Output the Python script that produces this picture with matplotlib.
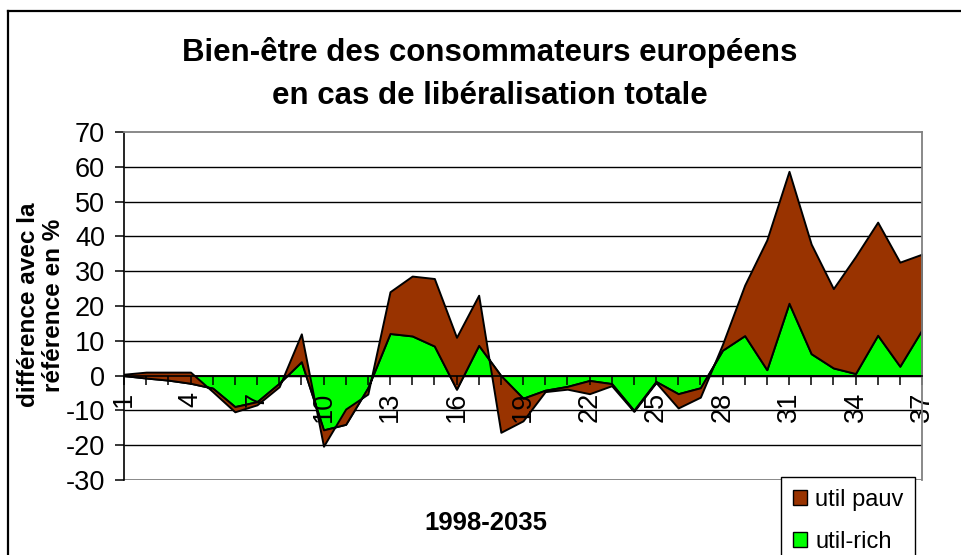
import matplotlib
matplotlib.use("Agg")
import matplotlib.pyplot as plt
from matplotlib.patches import Patch
from matplotlib.lines import Line2D

plt.rcParams.update({
    "font.family": ["Liberation Sans", "DejaVu Sans"],
    "font.size": 17,
    "axes.unicode_minus": False,
})

# categories 1..37 (years 1998-2035)
periods = list(range(1, 38))
tick_labels = [str(p) if (p - 1) % 3 == 0 else "" for p in periods]

# util-rich (bottom of stack)
util_rich = [0.0, -0.7, -1.3, -2.2, -3.6, -8.9, -7.5, -2.2, 4.0, -15.6,
             -14.0, -3.5, 12.1, 11.4, 8.5, -3.9, 8.7, 0.0, -6.5, -4.2,
             -3.1, -1.4, -2.3, -10.0, -1.7, -5.2, -3.5, 7.3, 11.5, 1.7,
             20.8, 6.3, 2.2, 0.6, 11.6, 2.7, 13.2]
# util pauv (stacked on top)
util_pauv = [0.4, 1.7, 2.3, 3.2, -1.0, -1.5, -0.9, -1.0, 8.0, -4.7,
             4.4, -1.8, 12.0, 17.2, 19.4, 14.9, 14.4, -16.3, -6.5, -0.4,
             -0.8, -3.8, -0.6, -0.3, -0.3, -4.1, -2.7, 1.7, 14.5, 37.3,
             37.9, 31.5, 22.8, 33.6, 32.5, 29.9, 21.7]

y_ticks = [-30, -20, -10, 0, 10, 20, 30, 40, 50, 60, 70]

COL_RICH = "#00FF00"
COL_PAUV = "#993300"
GRAY = "#808080"

W, H = 961, 555
fig = plt.figure(figsize=(W / 100, H / 100), dpi=100)
fig.patch.set_facecolor("white")

# outer chart frame (runs off the right/bottom edge)
fig.add_artist(Line2D([8 / W, 8 / W], [-0.1, 1 - 11 / H], color="black", lw=1.6))
fig.add_artist(Line2D([8 / W, 1.1], [1 - 11 / H, 1 - 11 / H], color="black", lw=1.6))

ax = fig.add_axes([124 / W, 1 - 480 / H, (922 - 124) / W, (480 - 132) / H])
ax.set_xlim(periods[0], periods[-1])
ax.set_ylim(y_ticks[0], y_ticks[-1])

# gridlines (behind the areas)
ax.hlines(y_ticks[1:-1], periods[0], periods[-1], color="black", lw=1.0, zorder=0)
ax.hlines([y_ticks[0]], periods[0], periods[-1], color=GRAY, lw=1.3, zorder=0)

ax.stackplot(periods, util_rich, util_pauv, colors=[COL_RICH, COL_PAUV],
             edgecolor="black", linewidth=1.4, zorder=1)

for s in ["top", "right"]:
    ax.spines[s].set_color(GRAY)
    ax.spines[s].set_linewidth(1.3)
ax.spines["left"].set_color("black")
ax.spines["left"].set_linewidth(1.2)
ax.spines["bottom"].set_position(("data", 0))
ax.spines["bottom"].set_color("black")
ax.spines["bottom"].set_linewidth(1.2)

ax.set_yticks(y_ticks)
ax.set_xticks(periods)
ax.set_xticklabels(tick_labels)
ax.tick_params(axis="y", direction="out", length=6.5, width=1.1, pad=7, labelsize=19.5)
ax.tick_params(axis="x", direction="out", length=6.5, width=1.1, pad=5, labelsize=19.5,
               labelrotation=90)

# titles
fig.text(490 / W, 1 - 52 / H, "Bien-être des consommateurs européens",
         ha="center", va="center", fontsize=22.5, fontweight="bold")
fig.text(490 / W, 1 - 96 / H, "en cas de libéralisation totale",
         ha="center", va="center", fontsize=22.5, fontweight="bold")
fig.text(41 / W, 1 - 305 / H, "différence avec la\nréférence en %",
         rotation=90, ha="center", va="center", fontsize=17.5, fontweight="bold",
         multialignment="center", linespacing=1.1)
fig.text(486 / W, 1 - 523 / H, "1998-2035", ha="center", va="center",
         fontsize=18.5, fontweight="bold")

handles = [Patch(facecolor=COL_PAUV, edgecolor="black", lw=1.0),
           Patch(facecolor=COL_RICH, edgecolor="black", lw=1.0)]
leg = fig.legend(handles, ["util pauv", "util-rich"], loc="upper left",
                 bbox_to_anchor=(781 / W, 1 - 477 / H), fontsize=17,
                 frameon=True, fancybox=False, shadow=False,
                 handlelength=0.6, handleheight=0.6, handletextpad=0.35,
                 borderpad=0.5, labelspacing=0.85, borderaxespad=0)
leg.get_frame().set_edgecolor("black")
leg.get_frame().set_linewidth(1.0)
leg.get_frame().set_facecolor("white")
leg.get_frame().set_alpha(1)

fig.savefig("out.png", dpi=100, facecolor="white")
